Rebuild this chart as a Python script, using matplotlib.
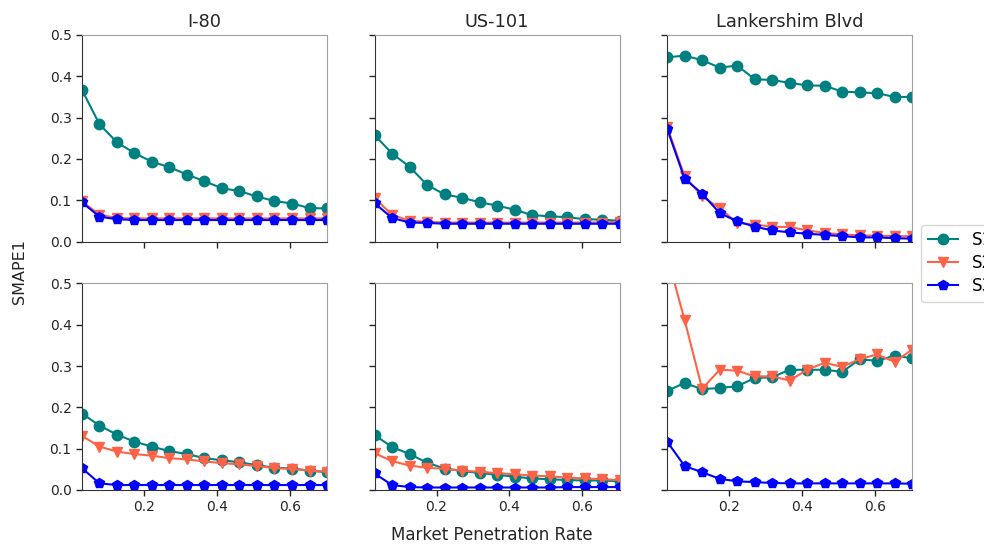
import matplotlib
matplotlib.use("Agg")
import matplotlib.pyplot as plt

# market penetration rates
rates = [0.03, 0.078, 0.126, 0.174, 0.222, 0.27, 0.318, 0.366,
         0.414, 0.462, 0.51, 0.558, 0.606, 0.654, 0.702]

sites = ["I-80", "US-101", "Lankershim Blvd"]
series_names = ["S1", "S2", "S3"]

# top row
i80_top_s1 = [0.367, 0.284, 0.240, 0.214, 0.193, 0.180, 0.162, 0.146,
              0.129, 0.122, 0.109, 0.098, 0.092, 0.081, 0.080]
i80_top_s2 = [0.097, 0.065, 0.057, 0.056, 0.056, 0.056, 0.056, 0.056,
              0.056, 0.056, 0.056, 0.056, 0.056, 0.056, 0.056]
i80_top_s3 = [0.095, 0.060, 0.054, 0.052, 0.052, 0.052, 0.052, 0.052,
              0.052, 0.052, 0.052, 0.052, 0.052, 0.052, 0.052]

us101_top_s1 = [0.258, 0.213, 0.181, 0.137, 0.114, 0.106, 0.095, 0.087,
                0.077, 0.064, 0.061, 0.059, 0.054, 0.053, 0.050]
us101_top_s2 = [0.105, 0.065, 0.050, 0.048, 0.046, 0.046, 0.046, 0.046,
                0.046, 0.046, 0.046, 0.046, 0.046, 0.046, 0.048]
us101_top_s3 = [0.093, 0.057, 0.046, 0.045, 0.043, 0.043, 0.043, 0.043,
                0.043, 0.043, 0.043, 0.043, 0.043, 0.043, 0.043]

lank_top_s1 = [0.446, 0.450, 0.439, 0.421, 0.426, 0.393, 0.391, 0.384,
               0.378, 0.377, 0.363, 0.361, 0.359, 0.350, 0.350]
lank_top_s2 = [0.278, 0.158, 0.109, 0.081, 0.045, 0.041, 0.036, 0.035,
               0.027, 0.021, 0.017, 0.015, 0.014, 0.013, 0.013]
lank_top_s3 = [0.273, 0.152, 0.116, 0.069, 0.049, 0.036, 0.027, 0.022,
               0.019, 0.016, 0.013, 0.010, 0.010, 0.008, 0.007]

# bottom row
i80_bot_s1 = [0.185, 0.156, 0.134, 0.117, 0.105, 0.094, 0.087, 0.077,
              0.072, 0.067, 0.060, 0.054, 0.052, 0.047, 0.043]
i80_bot_s2 = [0.131, 0.105, 0.093, 0.087, 0.083, 0.077, 0.074, 0.069,
              0.065, 0.062, 0.058, 0.053, 0.051, 0.047, 0.044]
i80_bot_s3 = [0.053, 0.016, 0.012, 0.012, 0.012, 0.012, 0.012, 0.012,
              0.012, 0.012, 0.012, 0.012, 0.012, 0.012, 0.012]

us101_bot_s1 = [0.133, 0.104, 0.087, 0.066, 0.052, 0.046, 0.041, 0.037,
                0.032, 0.028, 0.026, 0.024, 0.023, 0.023, 0.021]
us101_bot_s2 = [0.089, 0.070, 0.059, 0.054, 0.051, 0.047, 0.044, 0.041,
                0.038, 0.035, 0.033, 0.030, 0.028, 0.026, 0.024]
us101_bot_s3 = [0.040, 0.012, 0.007, 0.006, 0.006, 0.006, 0.006, 0.006,
                0.006, 0.006, 0.006, 0.007, 0.007, 0.007, 0.007]

lank_bot_s1 = [0.240, 0.259, 0.244, 0.247, 0.251, 0.271, 0.273, 0.291,
               0.291, 0.291, 0.286, 0.316, 0.313, 0.325, 0.319]
lank_bot_s2 = [0.568, 0.411, 0.245, 0.291, 0.289, 0.275, 0.275, 0.265,
               0.291, 0.308, 0.298, 0.317, 0.328, 0.310, 0.340]
lank_bot_s3 = [0.117, 0.058, 0.043, 0.027, 0.021, 0.019, 0.017, 0.016,
               0.016, 0.016, 0.016, 0.016, 0.016, 0.016, 0.015]

rows = [
    [(i80_top_s1, i80_top_s2, i80_top_s3),
     (us101_top_s1, us101_top_s2, us101_top_s3),
     (lank_top_s1, lank_top_s2, lank_top_s3)],
    [(i80_bot_s1, i80_bot_s2, i80_bot_s3),
     (us101_bot_s1, us101_bot_s2, us101_bot_s3),
     (lank_bot_s1, lank_bot_s2, lank_bot_s3)],
]

styles = [("teal", "o"), ("tomato", "v"), ("blue", "p")]

fig, axes = plt.subplots(2, 3, figsize=(9.84, 5.44), dpi=100,
                         sharex=True, sharey=True)
fig.subplots_adjust(left=0.0833, right=0.927, top=0.9357, bottom=0.0993,
                    wspace=0.194, hspace=0.203)

handles = []
for r, row in enumerate(rows):
    for c, panel in enumerate(row):
        ax = axes[r, c]
        for vals, (color, marker), name in zip(panel, styles, series_names):
            h, = ax.plot(rates, vals, color=color, marker=marker,
                         markersize=7.5, linewidth=1.5, label=name)
            if r == 0 and c == 0:
                handles.append(h)
        ax.set_xlim(rates[0], rates[-1])
        ax.set_ylim(0, 0.5)
        ax.set_xticks([0.2, 0.4, 0.6])
        ax.set_yticks([0.0, 0.1, 0.2, 0.3, 0.4, 0.5])
        ax.tick_params(direction="out", length=4, width=1, labelsize=10,
                       colors="#262626")
        for side in ["top", "right"]:
            ax.spines[side].set_color("#a0a0a0")
        for side in ["left", "bottom"]:
            ax.spines[side].set_color("#333333")
        if r == 0:
            ax.set_title(sites[c], fontsize=12.8, color="#262626")

fig.text(0.5, 0.0, "Market Penetration Rate", ha="center", va="bottom",
         fontsize=12, color="#262626")
fig.text(0.012, 0.5, "SMAPE1", ha="left", va="center", rotation=90,
         fontsize=11.5, color="#262626")

# legend sits half outside the canvas, as in the original figure
fig.legend(handles=handles, labels=series_names, loc="center left",
           bbox_to_anchor=(0.933, 0.516), fontsize=12, frameon=True,
           handlelength=1.8, borderaxespad=0.2, labelspacing=0.3)

fig.savefig("out.png", dpi=100)
plt.close(fig)
